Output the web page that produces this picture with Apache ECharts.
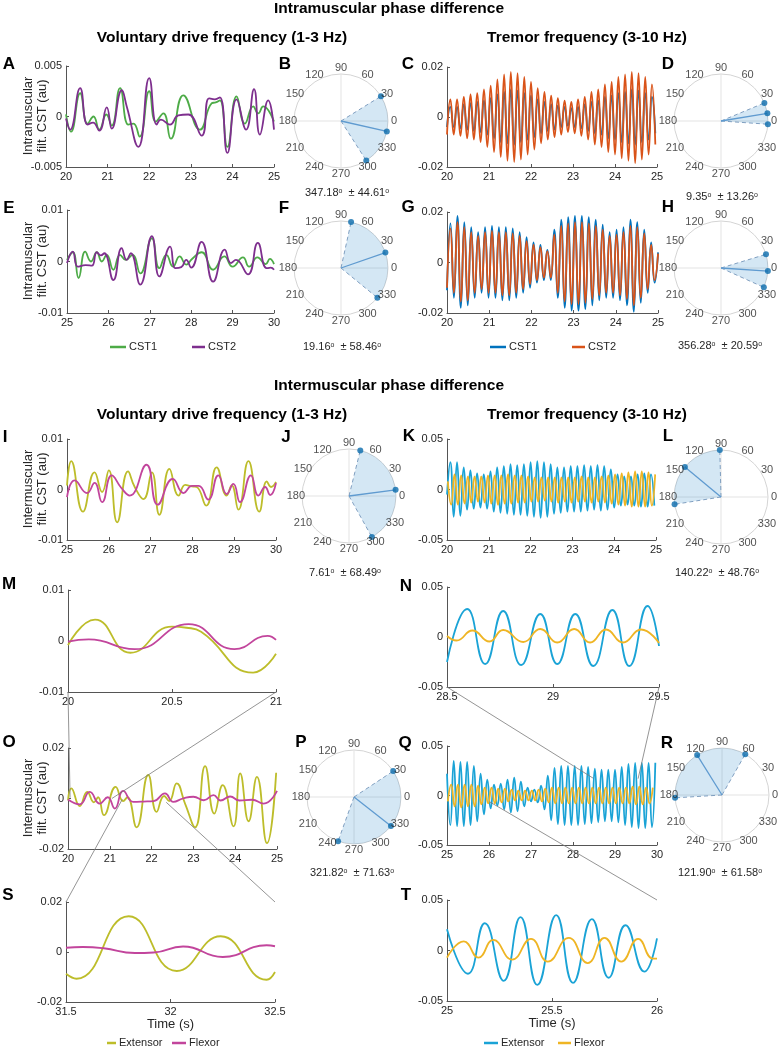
<!DOCTYPE html>
<html><head><meta charset="utf-8">
<script src="https://cdn.jsdelivr.net/npm/echarts/dist/echarts.min.js"></script>
<style>html,body{margin:0;padding:0;background:#fff}#c{width:779px;height:1051px}</style>
</head><body><div id="c"></div>
<script>
// ================= DATA (time in s, values in units of 1e-3 au) =================
// Panel A (intramuscular, 1-3 Hz)
const A_cst1 = [[20.00,0.2],[20.12,-1.5],[20.34,2.3],[20.52,-0.7],[20.66,0.0],[20.80,-1.3],[20.97,0.2],[21.10,-0.9],[21.30,2.8],[21.50,-0.8],[21.62,-0.7],[21.77,-2.0],[22.00,2.5],[22.16,-0.5],[22.34,0.3],[22.52,-2.2],[22.82,2.1],[23.22,-1.3],[23.50,1.3],[23.60,1.4],[23.70,1.6],[23.88,-3.0],[24.10,2.0],[24.30,-0.7],[24.50,1.0],[24.62,0.3],[24.74,1.0],[25.00,-0.5]];
const A_cst2 = [[20.00,-0.2],[20.10,-1.3],[20.34,2.8],[20.52,-0.8],[20.65,-0.6],[20.80,-1.4],[20.98,0.9],[21.10,-1.2],[21.34,2.6],[21.46,1.0],[21.74,-3.0],[22.00,3.8],[22.18,-0.8],[22.28,-0.3],[22.50,-0.8],[22.70,0.1],[22.94,0.2],[23.26,-1.9],[23.44,1.8],[23.58,1.7],[23.70,1.9],[23.88,-3.6],[24.10,1.7],[24.33,-1.3],[24.52,2.7],[24.66,-1.8],[24.86,1.6],[25.00,-1.3]];
// Panel E
const E_cst1 = [[25.00,0.3],[25.14,1.8],[25.28,-3.2],[25.44,1.9],[25.58,0.0],[25.72,1.8],[25.84,0.0],[25.96,1.3],[26.12,-1.6],[26.28,1.3],[26.42,0.3],[26.58,1.3],[26.77,-2.3],[27.05,4.5],[27.23,-1.3],[27.40,1.3],[27.56,-1.0],[27.72,1.0],[27.88,-0.6],[28.02,0.5],[28.25,1.8],[28.53,-1.6],[28.80,1.0],[29.00,-1.0],[29.25,0.8],[29.40,-1.0],[29.60,0.8],[29.80,-0.5],[29.90,0.5],[30.00,-0.5]];
const E_cst2 = [[25.00,-0.3],[25.14,1.9],[25.26,-1.0],[25.45,-0.7],[25.60,-0.8],[25.72,1.8],[25.82,1.2],[25.90,1.6],[26.12,-3.6],[26.32,2.6],[26.44,0.3],[26.54,1.6],[26.77,-4.5],[27.05,4.9],[27.23,-2.9],[27.49,2.9],[27.62,-1.3],[27.76,-1.1],[27.88,0.3],[28.00,-1.2],[28.25,3.8],[28.53,-3.9],[28.81,2.3],[28.96,-0.3],[29.08,0.3],[29.37,-2.5],[29.61,3.6],[29.82,-1.3],[29.92,-1.2],[30.00,-1.6]];
// Panel C (tremor band) – successive extremes sampled every half period
const C_t0 = 20.0, C_dt = 0.08;
const C_cst1 = [-4,4,-4,4,-4.5,5,-5,5.5,-5.5,6,-6,6.5,-7,7.5,-8.5,9,-10,10,-10.5,11,-11,10.5,-10,9.5,-9,8.5,-8,7,-6.5,6,-5.5,5,-5,4.5,-4,4,-3.5,3.5,-4,4,-4.5,5,-5.5,6,-6.5,6.5,-7,8,-8.5,8.5,-9,9.5,-10,10,-10.5,11,-11,10.5,-10,9.5,-9,8,-6.5];
const C_cst2 = [-7,7,-7,7,-7.5,8,-8.5,9,-9,9.5,-10,11,-12,12.5,-14,15,-16,17,-17.5,18,-18,17.5,-17,16,-15,14,-13,11.5,-10.5,10,-9,8.5,-8,7.5,-7,6.5,-6,6,-6.5,7,-7.5,8,-9,10,-11,11,-12,13,-14,14,-15,16,-16.5,17,-17.5,18,-18.5,17.5,-17,16,-15,13,-11];
// Panel G
const G_t0 = 20.0, G_dt = 0.082;
const G_cst1 = [-11,15.5,-14,18.5,-18,16,-17,14,-14,12,-12,14,-14,14.5,-14,14,-15,14,-15,13.5,-14,12,-12,10,-10,8,-8,7,-7,5,-7,13,-14,17,-18,18,-19,18.5,-19,18.5,-18.5,18,-17,17,-15,15,-14,12,-14,13,-15,14,-17,17,-19.5,16,-16,13,-12,8,-8,4];
const G_cst2 = [-10,13.5,-12,16,-15.5,14,-15,12,-12,10.5,-10.5,12,-12,12.5,-12,12,-13,12,-13,11.5,-12,10.5,-10.5,8.5,-8.5,7,-7,6,-6,4.5,-6,11,-12,14.5,-15.5,15.5,-16.5,16,-16.5,16,-16,15.5,-14.5,14.5,-13,13,-12,10.5,-12,11,-13,12,-14.5,14.5,-17,14,-14,11.5,-10.5,7,-7,3.5];
// Panel I (intermuscular, 1-3 Hz)
const I_ext = [[25.00,0.8],[25.10,5.6],[25.38,-4.4],[25.66,3.4],[25.84,-0.5],[26.00,3.8],[26.20,-6.5],[26.46,3.6],[26.62,0.5],[26.83,-1.9],[27.03,3.4],[27.21,-5.0],[27.45,4.1],[27.67,-1.2],[27.83,0.9],[27.99,0.6],[28.10,0.5],[28.33,-3.2],[28.58,4.4],[28.82,-1.2],[28.94,0.8],[29.10,-4.0],[29.34,5.6],[29.60,-4.4],[29.78,1.6],[29.88,0.5],[30.00,1.5]];
const I_flex = [[25.00,-1.5],[25.18,1.8],[25.48,-0.7],[25.66,1.3],[25.84,-2.5],[26.07,2.8],[26.30,0.3],[26.50,-1.2],[26.90,4.9],[27.17,-3.0],[27.53,2.1],[27.79,-0.7],[27.99,0.7],[28.15,0.7],[28.38,-2.0],[28.62,2.8],[28.82,-0.9],[28.98,1.1],[29.14,-2.5],[29.40,2.8],[29.58,-1.2],[29.74,0.5],[29.86,-1.1],[30.00,1.3]];
// Panel K (tremor band)
const K_ext_t0 = 20.0, K_flex_t0 = 20.02, K_dt = 0.08;
const K_ext = [-5,27,-27,27,-26,22,-20,19,-19,16,-18,15,-19,18,-22,22,-23,23,-24,25,-25,24,-25,25,-26,27,-27,28,-28,27,-27,25,-24,22,-23,22,-22,23,-22,23,-22,24,-21,23,-20,24,-21,23,-20,20,-18,15,-16,13,-15,13,-16,15,-17,16,-17,15,-16];
const K_flex = [8,-15,15,-15,14,-14,13,-13,13,-12,13,-13,14,-14,14,-15,14,-14,15,-14,14,-13,14,-13,13,-12,12,-12,12,-11,12,-12,12,-13,12,-12,12,-13,12,-12,13,-12,12,-13,12,-12,13,-13,14,-14,15,-15,16,-16,17,-17,18,-17,18,-17,17,-16,15];
// Panel M (zoom of O)
const M_ext = [[20.00,-0.8],[20.13,4.2],[20.30,-2.3],[20.50,2.8],[20.57,2.6],[20.64,1.8],[20.89,-6.2],[21.00,-2.5]];
const M_flex = [[20.00,-0.1],[20.10,0.3],[20.32,-1.6],[20.58,3.3],[20.80,-1.6],[20.96,1.0],[21.00,0.2]];
// Panel N (zoom of Q)
const N_ext = [[28.50,-25],[28.595,28],[28.68,-27],[28.765,26],[28.85,-28],[28.94,23],[29.02,-27],[29.105,23],[29.19,-29],[29.28,27],[29.36,-29],[29.446,31],[29.50,-9]];
const N_flex = [[28.50,1],[28.545,-3.5],[28.62,6.5],[28.70,-4.5],[28.765,7],[28.86,-5],[28.94,8],[29.02,-5.5],[29.10,8],[29.175,-5.5],[29.25,7.5],[29.33,-5.5],[29.415,7.5],[29.50,-6]];
// Panel O
const O_ext = [[20.00,-0.7],[20.08,4.0],[20.28,-3.0],[20.46,2.6],[20.62,-1.5],[20.72,0.5],[20.86,-6.6],[21.14,4.6],[21.32,-1.0],[21.42,0.5],[21.64,-11.4],[21.92,9.3],[22.12,-5.3],[22.30,1.0],[22.42,-1.0],[22.60,6.0],[22.80,-2.0],[23.04,-11.4],[23.28,12.8],[23.50,-6.0],[23.70,5.3],[23.96,-11.0],[24.12,9.9],[24.32,-9.0],[24.52,8.6],[24.76,-17.7],[24.98,10.2]];
const O_flex = [[20.00,-0.4],[20.28,-2.3],[20.52,2.6],[20.76,-2.0],[20.95,0.5],[21.12,-4.0],[21.32,3.0],[21.56,-1.3],[21.80,-1.2],[22.05,-1.0],[22.32,2.0],[22.52,-1.3],[22.75,0.0],[23.00,0.7],[23.25,-0.7],[23.48,1.3],[23.65,-0.8],[23.88,0.8],[24.10,-0.8],[24.40,-0.5],[24.68,-2.0],[25.00,3.0]];
// Panel Q
const Q_ext_t0 = 25.0, Q_flex_t0 = 25.02, Q_dt = 0.08;
const Q_ext = [22,-30,35,-31,34,-31,34,-30,30,-26,22,-19,16,-13,11,-10,12,-14,16,-17,18,-16,14,-11,8,-6,6,-7,10,-14,20,-25,28,-29,30,-30,30,-30,30,-30,30,-29,29,-28,27,-27,26,-26,26,-26,26,-27,29,-30,32,-32,33,-33,33,-33,33,-32,33];
const Q_flex = [-6,11,-11,11,-12,11,-11,11,-11,10,-9,8,-8,8,-8,7,-7,7,-6,6,-5,5,-5,5,-5,5,-5,6,-6,7,-7,8,-8,8,-8,8,-8,8,-8,8,-8,8,-8,8,-8,8,-8,8,-8,8,-8,8,-8,8,-8,9,-9,9,-9,8,-8,8];
// Panel S (zoom of O)
const S_ext = [[31.50,-8.7],[31.55,-10.7],[31.80,14.3],[32.03,-7.6],[32.24,6.3],[32.46,-11.1],[32.50,-8.0]];
const S_flex = [[31.50,1.7],[31.58,2.0],[31.68,1.5],[31.83,-0.4],[31.92,-0.2],[32.06,2.2],[32.25,-2.0],[32.46,2.7],[32.50,2.3]];
// Panel T (zoom of Q)
const T_ext = [[25.00,21],[25.10,-23],[25.18,27],[25.27,-30],[25.35,33],[25.43,-34],[25.52,35],[25.60,-32],[25.69,31],[25.77,-27],[25.85,25],[25.94,-21],[26.00,12]];
const T_flex = [[25.00,-7],[25.08,9],[25.15,-7],[25.22,10.5],[25.31,-9],[25.40,11.5],[25.48,-11],[25.58,12.5],[25.67,-12.5],[25.75,12.5],[25.83,-11],[25.91,11.5],[25.98,-8],[26.00,-8]];
// Polar panels: mean phase and SD (degrees)
const polarStats = {B:[347.18,44.61], D:[9.35,13.26], F:[19.16,58.46], H:[356.28,20.59], J:[7.61,68.49], L:[140.22,48.76], P:[321.82,71.63], R:[121.90,61.58]};
const angleTicks = [0,30,60,90,120,150,180,210,240,270,300,330];

// ================= STYLE =================
const FONT = 'Liberation Sans, Arial, Helvetica, sans-serif';
const TXT = '#262626';
const GREEN='#4dab47', PURPLE='#7e2f8e', BLUE='#0072bd', ORANGE='#d95319';
const EXT1='#bdbd2a', FLX1='#c2459c', EXT2='#1aa3d6', FLX2='#efb524';

function samp(t0, dt, vals){ return vals.map((v,i)=>[+(t0+i*dt).toFixed(4), v]); }

const grids=[], xAxes=[], yAxes=[], series=[];
const axisCommon = {
  axisLine:{onZero:false, lineStyle:{color:'#555', width:1}},
  axisTick:{inside:true, length:3, lineStyle:{color:'#555'}},
  axisLabel:{fontSize:11, color:TXT, fontFamily:FONT, margin:4},
  splitLine:{show:false}
};
function addTS(box, xr, yr, lines, xname){
  const gi = grids.length;
  grids.push({left:box[0], top:box[1], width:box[2], height:box[3]});
  const xa = Object.assign({gridIndex:gi, type:'value', min:xr[0], max:xr[1], interval:xr[2]}, JSON.parse(JSON.stringify(axisCommon)));
  if (xname){ Object.assign(xa, {name:xname, nameLocation:'middle', nameGap:16, nameTextStyle:{fontSize:13, color:TXT, fontFamily:FONT}}); }
  xAxes.push(xa);
  yAxes.push(Object.assign({gridIndex:gi, type:'value', min:yr[0], max:yr[1], interval:yr[2]}, JSON.parse(JSON.stringify(axisCommon))));
  lines.forEach(l=>series.push({type:'line', xAxisIndex:gi, yAxisIndex:gi, data:l[0].map(d=>[d[0], d[1]*1e-3]),
     smooth:0.5, symbol:'none', showSymbol:false, lineStyle:{color:l[1], width:1.8}, silent:true, animation:false, z:3}));
  return gi;
}
const gA = addTS([66,66,208,101],[20,25,1],[-0.005,0.005,0.005],[[A_cst1,GREEN],[A_cst2,PURPLE]]);
const gC = addTS([447,67,210,100],[20,25,1],[-0.02,0.02,0.02],[[samp(C_t0,C_dt,C_cst1),BLUE],[samp(C_t0,C_dt,C_cst2),ORANGE]]);
const gE = addTS([67,210,207,103],[25,30,1],[-0.01,0.01,0.01],[[E_cst1,GREEN],[E_cst2,PURPLE]]);
const gG = addTS([447,212,211,101],[20,25,1],[-0.02,0.02,0.02],[[samp(G_t0,G_dt,G_cst1),BLUE],[samp(G_t0,G_dt,G_cst2),ORANGE]]);
const gI = addTS([67,439,209,101],[25,30,1],[-0.01,0.01,0.01],[[I_ext,EXT1],[I_flex,FLX1]]);
const gK = addTS([447,439,209,101],[20,25,1],[-0.05,0.05,0.05],[[samp(K_ext_t0,K_dt,K_ext),EXT2],[samp(K_flex_t0,K_dt,K_flex),FLX2]]);
const gM = addTS([68,590,208,102],[20,21,0.5],[-0.01,0.01,0.01],[[M_ext,EXT1],[M_flex,FLX1]]);
const gN = addTS([447,587,212,100],[28.5,29.5,0.5],[-0.05,0.05,0.05],[[N_ext,EXT2],[N_flex,FLX2]]);
const gO = addTS([68,748,209,101],[20,25,1],[-0.02,0.02,0.02],[[O_ext,EXT1],[O_flex,FLX1]]);
const gQ = addTS([447,746,210,99],[25,30,1],[-0.05,0.05,0.05],[[samp(Q_ext_t0,Q_dt,Q_ext),EXT2],[samp(Q_flex_t0,Q_dt,Q_flex),FLX2]]);
const gS = addTS([66,902,209,100],[31.5,32.5,0.5],[-0.02,0.02,0.02],[[S_ext,EXT1],[S_flex,FLX1]],'Time (s)');
const gT = addTS([447,900,210,101],[25,26,0.5],[-0.05,0.05,0.05],[[T_ext,EXT2],[T_flex,FLX2]],'Time (s)');

// ---- polar panels ----
const polars=[], angleAxes=[], radiusAxes=[];
const PR = 47;
function norm(a){ return ((a%360)+360)%360; }
function addPolar(center, stats){
  const pi = polars.length;
  polars.push({center:center, radius:PR});
  angleAxes.push({polarIndex:pi, type:'value', min:0, max:360, startAngle:0, clockwise:false,
    axisLine:{lineStyle:{color:'#d4d4d4', width:1}}, axisTick:{show:false}, axisLabel:{show:false}, splitLine:{show:false}});
  radiusAxes.push({polarIndex:pi, type:'value', min:0, max:1,
    axisLine:{show:false}, axisTick:{show:false}, axisLabel:{show:false}, splitLine:{show:false}});
  const base = {coordinateSystem:'polar', polarIndex:pi, silent:true, animation:false};
  const m = stats[0], s = stats[1];
  series.push(Object.assign({type:'line', data:[[1,0],[1,180]], symbol:'none', lineStyle:{color:'#e3e3e3', width:1}, z:1}, base));
  series.push(Object.assign({type:'line', data:[[1,90],[1,270]], symbol:'none', lineStyle:{color:'#e3e3e3', width:1}, z:1}, base));
  series.push(Object.assign({type:'custom', data:[[m,s]], z:2, renderItem:function(params, api){
      const cs = params.coordSys, mm = api.value(0), ss = api.value(1);
      return {type:'sector', shape:{cx:cs.cx, cy:cs.cy, r:cs.r, r0:0, startAngle:-(mm+ss)*Math.PI/180, endAngle:-(mm-ss)*Math.PI/180, clockwise:true},
              style:{fill:'rgba(0,114,189,0.17)'}};
  }}, base));
  series.push(Object.assign({type:'line', data:[[0,0],[1,norm(m-s)]], symbol:'none', lineStyle:{color:'#7f9fc0', width:1, type:[4,3]}, z:3}, base));
  series.push(Object.assign({type:'line', data:[[0,0],[1,norm(m+s)]], symbol:'none', lineStyle:{color:'#7f9fc0', width:1, type:[4,3]}, z:3}, base));
  series.push(Object.assign({type:'line', data:[[0,0],[1,norm(m)]], symbol:'none', lineStyle:{color:'#5f9bd0', width:1.3}, z:3}, base));
  series.push(Object.assign({type:'scatter', clip:false, data:[[1,norm(m-s)],[1,norm(m)],[1,norm(m+s)]], symbol:'circle', symbolSize:6, itemStyle:{color:'#0a6cad'}, z:4}, base));
  series.push(Object.assign({type:'scatter', clip:false, data:angleTicks.map(a=>[1.13,a]), symbol:'circle', symbolSize:2, itemStyle:{color:'rgba(0,0,0,0)'}, z:5,
     label:{show:true, position:'inside', formatter:p=>String(p.value[1]), fontSize:11, color:TXT, fontFamily:FONT}}, base));
  return pi;
}
addPolar([341,121], polarStats.B);
addPolar([721,121], polarStats.D);
addPolar([341,268], polarStats.F);
addPolar([721,268], polarStats.H);
addPolar([349,496], polarStats.J);
addPolar([721,497], polarStats.L);
addPolar([354,797], polarStats.P);
addPolar([722,795], polarStats.R);

const chart = echarts.init(document.getElementById('c'));
chart.setOption({animation:false, grid:grids, xAxis:xAxes, yAxis:yAxes, polar:polars, angleAxis:angleAxes, radiusAxis:radiusAxes, series:series});

// ---- graphics: texts, legends, connector lines ----
const g = [];
function txt(x,y,text,size,bold,extra){ g.push(Object.assign({type:'text', x:x, y:y, silent:true, style:Object.assign({text:text, fill:'#000', font:(bold?'bold ':'')+size+'px '+FONT, textAlign:'center', textVerticalAlign:'middle'}, extra||{})})); }
txt(389,9,'Intramuscular phase difference',15.5,true);
txt(222,38,'Voluntary drive frequency (1-3 Hz)',15.5,true);
txt(587,38,'Tremor frequency (3-10 Hz)',15.5,true);
txt(389,386,'Intermuscular phase difference',15.5,true);
txt(222,415,'Voluntary drive frequency (1-3 Hz)',15.5,true);
txt(587,415,'Tremor frequency (3-10 Hz)',15.5,true);
const letters = [['A',9,64],['B',285,64],['C',408,64],['D',668,64],['E',9,208],['F',284,208],['G',408,207],['H',668,207],
  ['I',5,437],['J',286,437],['K',409,436],['L',668,436],['M',9,584],['N',406,586],['O',9,742],['P',301,742],['Q',405,743],['R',667,743],['S',8,895],['T',406,895]];
letters.forEach(l=>txt(l[1],l[2],l[0],17,true));
// y-axis titles
function ylab(y, line1){ g.push({type:'text', x:35, y:y, rotation:Math.PI/2, silent:true, style:{text:line1+'\nfilt. CST (au)', fill:TXT, font:'13px '+FONT, textAlign:'center', textVerticalAlign:'middle', lineHeight:14}}); }
ylab(116,'Intramuscular'); ylab(261,'Intramuscular'); ylab(489,'Intermuscular'); ylab(798,'Intermuscular');
// angle summaries
function ang(x,y,k){ const st = polarStats[k]; g.push({type:'text', x:x, y:y, silent:true, style:{text:st[0].toFixed(2)+'{s|o}  \u00b1 '+st[1].toFixed(2)+'{s|o}', fill:TXT, font:'11px '+FONT, textAlign:'center', textVerticalAlign:'middle', rich:{s:{fontSize:7, verticalAlign:'top', fill:TXT, fontFamily:FONT}}}}); }
ang(347,193,'B'); ang(722,197,'D'); ang(342,347,'F'); ang(720,346,'H'); ang(345,573,'J'); ang(717,573,'L'); ang(352,873,'P'); ang(720,873,'R');
// legends
function leg(x1,x2,y,color,label){ g.push({type:'line', silent:true, shape:{x1:x1,y1:y,x2:x2,y2:y}, style:{stroke:color, lineWidth:2.5}}); g.push({type:'text', x:x2+3, y:y, silent:true, style:{text:label, fill:TXT, font:'11px '+FONT, textAlign:'left', textVerticalAlign:'middle'}}); }
leg(110,126,347,GREEN,'CST1'); leg(192,205,347,PURPLE,'CST2');
leg(490,506,347,BLUE,'CST1'); leg(572,585,347,ORANGE,'CST2');
leg(107,116,1043,EXT1,'Extensor'); leg(172,186,1043,FLX1,'Flexor');
leg(484,498,1043,EXT2,'Extensor'); leg(558,571,1043,FLX2,'Flexor');
// connector lines (zoom indicators), defined in data space
const connectors = [
  [gM,[20,-0.01], gO,[20.05,0.0003]],
  [gM,[21,-0.01], gO,[21.05,0]],
  [gO,[21.3,-0.0003], gS,[31.5,0.02]],
  [gO,[22.35,-0.0015], gS,[32.5,0.02]],
  [gQ,[28.48,0.0175], gN,[28.5,-0.05]],
  [gQ,[29.55,0.017], gN,[29.5,-0.05]],
  [gQ,[26.02,-0.0065], gT,[26,0.05]]
];
connectors.forEach(c=>{
  const p1 = chart.convertToPixel({gridIndex:c[0]}, c[1]);
  const p2 = chart.convertToPixel({gridIndex:c[2]}, c[3]);
  g.push({type:'line', silent:true, z:10, shape:{x1:p1[0],y1:p1[1],x2:p2[0],y2:p2[1]}, style:{stroke:'#7a7a7a', lineWidth:0.8}});
});
chart.setOption({graphic:g});
</script></body></html>
